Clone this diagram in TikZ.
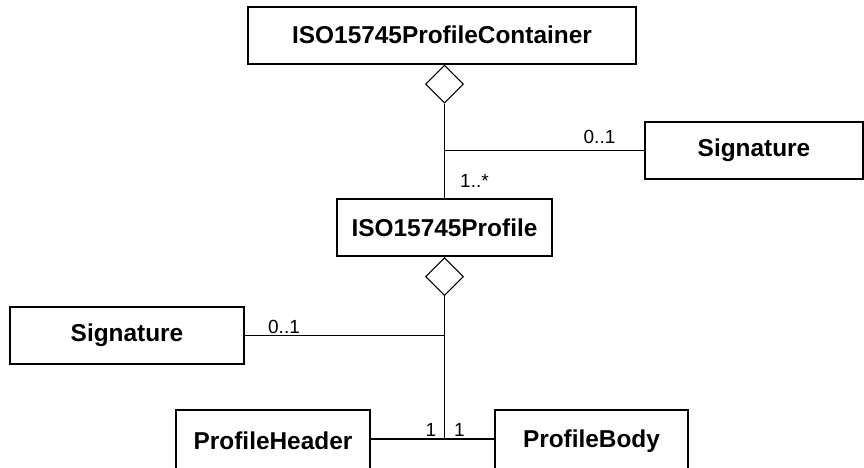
\documentclass[tikz,border=0pt]{standalone}
\usepackage{fontspec}
\setmainfont{Liberation Sans}
\usetikzlibrary{shapes.geometric}
\tikzset{
  cls/.style={draw, line width=1pt, font=\bfseries\fontsize{12.2}{14}\selectfont, minimum height=28.5pt, inner sep=0pt},
  agg/.style={draw, diamond, line width=0.6pt, minimum width=19pt, minimum height=19pt, inner sep=0pt, anchor=north},
  assoc/.style={line width=0.6pt},
  mult/.style={font=\fontsize{9.5}{11}\selectfont, inner sep=0pt},
}
\begin{document}
\begin{tikzpicture}[x=0.5pt,y=-0.5pt]
 \useasboundingbox (0,0) rectangle (864,467);
 % classes
 \node[cls, minimum width=194pt] (cont) at (442,35) {ISO15745ProfileContainer};
 \node[cls, minimum width=109pt] (sigR) at (754,150.5) {Signature};
 \node[cls, minimum width=107.5pt] (prof) at (444.5,227.5) {ISO15745Profile};
 \node[cls, minimum width=117pt] (sigL) at (127,335.5) {Signature};
 \node[cls, minimum width=97pt, minimum height=31pt] (head) at (273,441) {ProfileHeader};
 \node[cls, minimum width=96.5pt, minimum height=31pt] (body) at (591.5,441) {ProfileBody};
 % aggregations
 \node[agg] (d1) at (cont.south -| prof.north) {};
 \node[agg] (d2) at (prof.south) {};
 \coordinate (j1) at (d1.south |- sigR.west);
 \coordinate (j2) at (d2.south |- sigL.east);
 \coordinate (j3) at ([yshift=1pt]d2.south |- head.east);
 \draw[assoc] (d1.south) -- (prof.north);
 \draw[assoc] (j1) -- (sigR.west);
 \draw[assoc] (sigL.east) -- (j2);
 \draw[assoc, line width=0.9pt] (d2.south) -- (j3);
 \draw[assoc] (head.east |- j3) -- (body.west |- j3);
 % multiplicities
 \node[mult] (m1) at (599.5,136.5) {0..1};
 \node[mult] (m2) at (474.5,180.5) {1..*};
 \node[mult] (m3) at (284,326.5) {0..1};
 \node[mult] (m4) at (431,429.5) {1};
 \node[mult] (m5) at (459.5,429.5) {1};
\end{tikzpicture}
\end{document}
